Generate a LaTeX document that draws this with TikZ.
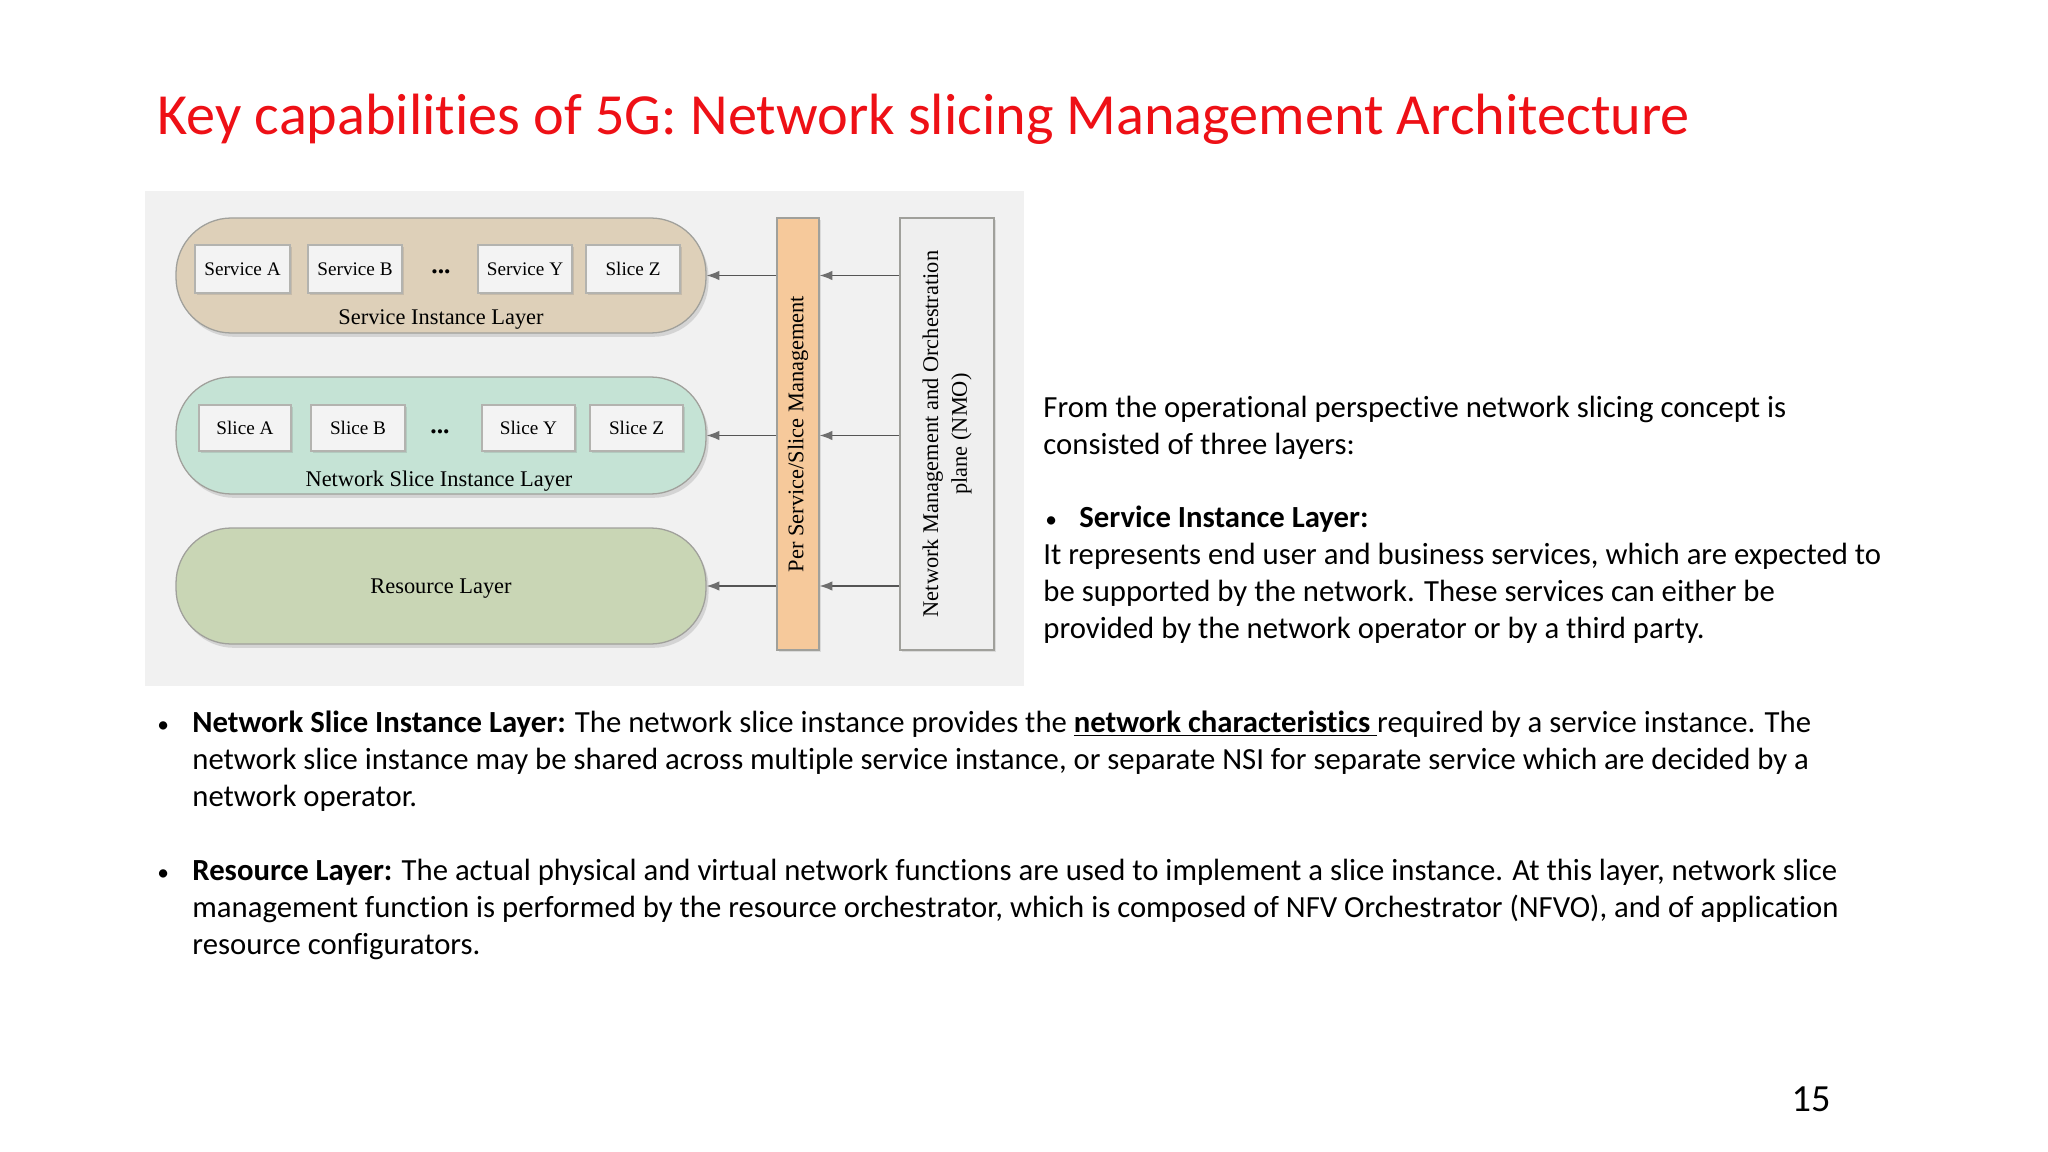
\documentclass[tikz,border=0pt]{standalone}
\usepackage{fontspec}
\setmainfont{Carlito}[Ligatures=NoCommon]
\newfontfamily\tms{Liberation Serif}
\usetikzlibrary{fit,shadows,arrows.meta}
\definecolor{titlered}{RGB}{238,16,22}
\definecolor{bggray}{RGB}{241,241,241}
\definecolor{tanfill}{RGB}{222,208,185}
\definecolor{mintfill}{RGB}{197,227,213}
\definecolor{sagefill}{RGB}{201,214,181}
\definecolor{boxfill}{RGB}{243,243,243}
\definecolor{barfill}{RGB}{246,201,155}
\definecolor{nmofill}{RGB}{239,239,239}
\definecolor{edgegray}{RGB}{160,160,155}
\definecolor{linegray}{RGB}{85,85,85}
\definecolor{tipgray}{RGB}{110,110,110}
\tikzset{
  pill/.style={inner sep=0pt, draw=edgegray, line width=0.6pt, rounded corners=26pt,
    drop shadow={opacity=0.25, shadow xshift=1.2pt, shadow yshift=-1.8pt}},
  itembox/.style={inner sep=0pt, draw=edgegray!80, line width=0.5pt, fill=boxfill,
    drop shadow={opacity=0.25, shadow xshift=1pt, shadow yshift=-1pt}},
  itemtext/.style={inner sep=0pt, font=\tms\fontsize{9}{10}\selectfont},
  layerlabel/.style={inner sep=0pt, font=\tms\fontsize{10.5}{12}\selectfont},
  dotlabel/.style={inner sep=0pt, font=\tms\bfseries\fontsize{12}{12}\selectfont},
  conn/.style={draw=linegray, line width=0.6pt, -{Latex[length=6pt,width=4.5pt,fill=tipgray,color=tipgray]}},
  bodytext/.style={anchor=base west, inner sep=0pt, font=\fontsize{14.4}{17}\selectfont},
  bul/.style={anchor=base west, inner sep=0pt, font=\fontsize{11}{17}\selectfont},
}
\begin{document}
\begin{tikzpicture}[x=0.46875pt,y=-0.46875pt]
\path[use as bounding box, fill=white] (0,0) rectangle (2048,1152);

% title
\node[anchor=base west, inner sep=0pt, text=titlered, font=\fontsize{27.3}{32}\selectfont] (title) at (157,135)
  {Key capabilities of 5G: Network slicing Management Architecture};

% diagram background
\node[fit={(145,191)(1024,686)}, inner sep=0pt, fill=bggray] (bg) {};

% layers
\node[pill, fill=tanfill, fit={(176,218)(706,333)}] (p1) {};
\node[pill, fill=mintfill, fit={(176,377)(706,494)}] (p2) {};
\node[pill, fill=sagefill, fit={(176,528)(706,644)}] (p3) {};

% service boxes
\node[itembox, fit={(195,245)(290,293)}] (sa) {};
\node[itemtext] at (sa.center) {Service A};
\node[itembox, fit={(308,245)(402,293)}] (sb) {};
\node[itemtext] at (sb.center) {Service B};
\node[dotlabel] (sdots) at (441,272) {...};
\node[itembox, fit={(478,245)(572,293)}] (sy) {};
\node[itemtext] at (sy.center) {Service Y};
\node[itembox, fit={(586,245)(680,293)}] (sz) {};
\node[itemtext] at (sz.center) {Slice Z};
\node[layerlabel] (l1) at (441,320) {Service Instance Layer};

% slice boxes
\node[itembox, fit={(199,405)(291,451)}] (na) {};
\node[itemtext] at (na.center) {Slice A};
\node[itembox, fit={(311,405)(405,451)}] (nb) {};
\node[itemtext] at (nb.center) {Slice B};
\node[dotlabel] (ndots) at (440,432) {...};
\node[itembox, fit={(482,405)(575,451)}] (ny) {};
\node[itemtext] at (ny.center) {Slice Y};
\node[itembox, fit={(590,405)(683,451)}] (nz) {};
\node[itemtext] at (nz.center) {Slice Z};
\node[layerlabel] (l2) at (439,481) {Network Slice Instance Layer};

\node[layerlabel] (l3) at (441,589) {Resource Layer};

% management bar and NMO
\node[fit={(777,218)(819,650)}, inner sep=0pt, fill=barfill, draw=edgegray, line width=0.6pt,
  drop shadow={opacity=0.2, shadow xshift=1pt, shadow yshift=-1pt}] (bar) {};
\node[layerlabel, rotate=90] (bartext) at (bar.center) {Per Service/Slice Management};
\node[fit={(900,218)(994,650)}, inner sep=0pt, fill=nmofill, draw=edgegray, line width=0.6pt,
  drop shadow={opacity=0.2, shadow xshift=1pt, shadow yshift=-1pt}] (nmo) {};
\node[layerlabel, rotate=90, align=center, font=\tms\fontsize{10.5}{13.5}\selectfont] (nmotext) at (nmo.center)
  {Network Management and Orchestration\\plane (NMO)};

% connectors
\draw[conn] (nmo.west |- p1.east) -- (bar.east |- p1.east);
\draw[conn] (nmo.west |- p2.east) -- (bar.east |- p2.east);
\draw[conn] (nmo.west |- p3.east) -- (bar.east |- p3.east);
\draw[conn] (bar.west |- p1.east) -- (p1.east);
\draw[conn] (bar.west |- p2.east) -- (p2.east);
\draw[conn] (bar.west |- p3.east) -- (p3.east);

% right text
\node[bodytext] (r1) at (1043,417) {From the operational perspective network slicing concept is};
\node[bodytext] (r2) at (1043,454) {consisted of three layers:};
\node[bul] (r3b) at (1045,527) {•};
\node[bodytext] (r3) at (1079,527) {\textbf{Service Instance Layer:}};
\node[bodytext] (r4) at (1043,564) {It represents end user and business services, which are expected to};
\node[bodytext] (r5) at (1043,601) {be supported by the network. These services can either be};
\node[bodytext] (r6) at (1043,638) {provided by the network operator or by a third party.};

% bottom bullets
\node[bul] (b1b) at (157,732) {•};
\node[bodytext] (b1) at (192,732) {\textbf{Network Slice Instance Layer:} The network slice instance provides the \textbf{\underline{network characteristics\ }}required by a service instance. The};
\node[bodytext] (b2) at (192,769) {network slice instance may be shared across multiple service instance, or separate NSI for separate service which are decided by a};
\node[bodytext] (b3) at (192,806) {network operator.};
\node[bul] (b4b) at (157,880) {•};
\node[bodytext] (b4) at (192,880) {\textbf{Resource Layer:} The actual physical and virtual network functions are used to implement a slice instance. At this layer, network slice};
\node[bodytext] (b5) at (192,917) {management function is performed by the resource orchestrator, which is composed of NFV Orchestrator (NFVO), and of application};
\node[bodytext] (b6) at (192,954) {resource configurators.};

% page number
\node[anchor=base, inner sep=0pt, font=\fontsize{18}{20}\selectfont] (pg) at (1811,1111) {15};
\end{tikzpicture}
\end{document}
